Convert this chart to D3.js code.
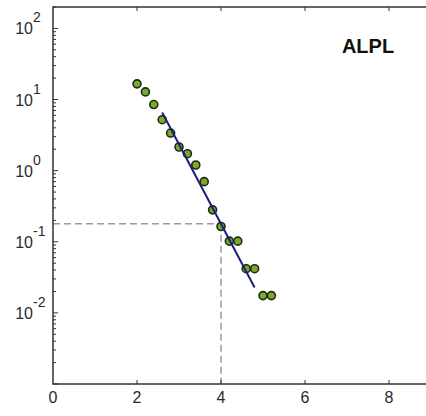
<!DOCTYPE html>
<html><head><meta charset="utf-8">
<script src="https://cdn.jsdelivr.net/npm/d3@7/dist/d3.min.js"></script>
<style>body{margin:0;background:#fff;} svg{display:block;}</style>
</head><body>
<svg id="c" width="426" height="416"></svg>
<script>
const xVals = [2.0, 2.2, 2.4, 2.6, 2.8, 3.0, 3.2, 3.4, 3.6, 3.8, 4.0, 4.2, 4.4, 4.6, 4.8, 5.0, 5.2];
const yVals = [16.6, 12.8, 8.5, 5.2, 3.38, 2.15, 1.73, 1.2, 0.70, 0.281, 0.164, 0.102, 0.102, 0.0418, 0.0418, 0.0175, 0.0175];
const fitX = [2.6, 4.8];
const fitY = [6.58, 0.0228];
const refX = 4;
const refY = 0.179;
const xTicks = [0, 2, 4, 6, 8];
const yExponents = [-2, -1, 0, 1, 2];
const title = "ALPL";

const svg = d3.select("#c");
const L = 53, R = 431, T = 7, B = 384;
const x = d3.scaleLinear().domain([0, 9]).range([L, R]);
const y = d3.scaleLog().domain([1e-3, 200]).range([B, T]);
const axisColor = "#333";
const txt = "#2a2a2a";

// reference dashed lines
svg.append("line").attr("x1", x(0)).attr("x2", x(refX)).attr("y1", y(refY)).attr("y2", y(refY))
  .attr("stroke", "#9a9a9a").attr("stroke-width", 1.5).attr("stroke-dasharray", "7,4");
svg.append("line").attr("x1", x(refX)).attr("x2", x(refX)).attr("y1", y(refY)).attr("y2", y(1e-3))
  .attr("stroke", "#9a9a9a").attr("stroke-width", 1.5).attr("stroke-dasharray", "7,4");

// box
svg.append("rect").attr("x", L).attr("y", T).attr("width", R - L).attr("height", B - T)
  .attr("fill", "none").attr("stroke", axisColor).attr("stroke-width", 1.5);

// x ticks
xTicks.forEach(v => {
  if (v > 0) {
    svg.append("line").attr("x1", x(v)).attr("x2", x(v)).attr("y1", B).attr("y2", B - 4).attr("stroke", axisColor);
    svg.append("line").attr("x1", x(v)).attr("x2", x(v)).attr("y1", T).attr("y2", T + 4).attr("stroke", axisColor);
  }
  svg.append("text").attr("x", x(v)).attr("y", B + 19).attr("text-anchor", "middle")
    .attr("font-family", "Liberation Sans, Arial, sans-serif").attr("font-size", 16).attr("fill", txt).text(v);
});

// y ticks major/minor
for (let e = -3; e <= 2; e++) {
  for (let m = 1; m <= 9; m++) {
    const v = m * Math.pow(10, e);
    if (v < 1e-3 || v > 200) continue;
    const len = m === 1 ? 5 : 3;
    svg.append("line").attr("x1", L).attr("x2", L + len).attr("y1", y(v)).attr("y2", y(v))
      .attr("stroke", axisColor).attr("stroke-width", 1);
  }
}
yExponents.forEach(e => {
  const t = svg.append("text").attr("x", 33).attr("y", y(Math.pow(10, e)) + 6).attr("text-anchor", "end")
    .attr("font-family", "Liberation Sans, Arial, sans-serif").attr("font-size", 16).attr("fill", txt).text("10");
  svg.append("text").attr("x", 33).attr("y", y(Math.pow(10, e)) - 6).attr("text-anchor", "start")
    .attr("font-family", "Liberation Sans, Arial, sans-serif").attr("font-size", 14).attr("fill", txt).text(e);
});

// points
svg.append("g").selectAll("circle").data(xVals).join("circle")
  .attr("cx", (d) => x(d)).attr("cy", (d, i) => y(yVals[i])).attr("r", 4)
  .attr("fill", "#7aa82c").attr("stroke", "#1e2a12").attr("stroke-width", 1.6);

// fit line
svg.append("line").attr("x1", x(fitX[0])).attr("y1", y(fitY[0])).attr("x2", x(fitX[1])).attr("y2", y(fitY[1]))
  .attr("stroke", "#1c1f7a").attr("stroke-width", 2);

// title
svg.append("text").attr("x", 368).attr("y", 53).attr("text-anchor", "middle")
  .attr("font-family", "Liberation Sans, Arial, sans-serif").attr("font-weight", "bold").attr("font-size", 20)
  .attr("fill", "#111").text(title);
</script>
</body></html>
